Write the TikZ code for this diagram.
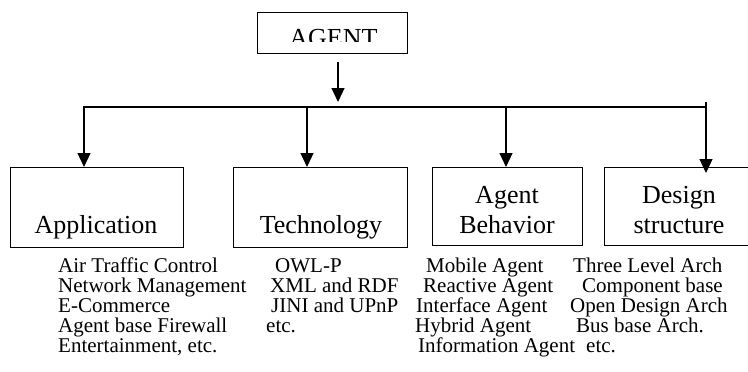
\documentclass[tikz,border=0pt]{standalone}
\usepackage{fontspec}
\setmainfont{Liberation Serif}
\usetikzlibrary{arrows.meta}
\begin{document}
\begin{tikzpicture}[x=1pt,y=-1pt,
  box/.style={draw, line width=1.2pt, inner sep=0pt, anchor=north west},
  ttl/.style={font=\fontsize{26}{30}\selectfont, inner sep=0pt, anchor=base},
  lst/.style={font=\fontsize{21}{20}\selectfont, inner sep=0pt, anchor=base west},
  arr/.style={line width=1.2pt, -{Triangle[length=14pt,width=13pt]}},
  conn/.style={line width=1.2pt, line cap=rect}]
\clip (0,0) rectangle (748,372);
% boxes
\node[box, minimum width=150pt, minimum height=41pt] (agent) at (257,12) {};
\node[box, minimum width=173pt, minimum height=80pt] (app) at (10,167) {};
\node[box, minimum width=174pt, minimum height=80pt] (tech) at (233,167) {};
\node[box, minimum width=150pt, minimum height=78pt] (beh) at (432,167) {};
\node[box, minimum width=150pt, minimum height=78pt] (des) at (604,167) {};
% titles
\begin{scope}
  \clip (257,12) rectangle (407,41);
  \node[ttl] (agentT) at (333.5,46) {AGENT};
\end{scope}
\node[ttl] (appT) at (96,233) {Application};
\node[ttl] (techT) at (321,233) {Technology};
\node[ttl] (behT1) at (507,203) {Agent};
\node[ttl] (behT2) at (507,233) {Behavior};
\node[ttl] (desT1) at (679,203) {Design};
\node[ttl] (desT2) at (679,233) {structure};
% connectors
\coordinate (aS) at (338,62);
\coordinate (aE) at (338,102);
\coordinate (busL) at (84,107);
\coordinate (busR) at (706,107);
\coordinate (busTop) at (706,102);
\coordinate (desTip) at (706,173);
\coordinate (b2) at (307,107);
\coordinate (b3) at (506,107);
\draw[arr] (aS) -- (aE);
\draw[conn] (busL) -- (busR);
\draw[arr] (busL) -- (busL |- app.north);
\draw[arr] (b2) -- (b2 |- tech.north);
\draw[arr] (b3) -- (b3 |- beh.north);
\draw[arr] (busTop) -- (desTip);
% lists
\foreach \x/\y/\t [count=\i] in {58/272.7/Air Traffic Control, 58/292.7/Network Management, 58/312.7/E-Commerce, 58/332.7/Agent base Firewall, 58/352.7/{Entertainment, etc.}}
  \node[lst] (appL\i) at (\x,\y) {\t};
\foreach \x/\y/\t [count=\i] in {275/272.7/OWL-P, 270/292.7/XML and RDF, 271/312.7/JINI and UPnP, 266/332.7/etc.}
  \node[lst] (techL\i) at (\x,\y) {\t};
\foreach \x/\y/\t [count=\i] in {426/272.7/Mobile Agent, 423/292.7/Reactive Agent, 416/312.7/Interface Agent, 415/332.7/Hybrid Agent, 418/352.7/Information Agent}
  \node[lst] (behL\i) at (\x,\y) {\t};
\foreach \x/\y/\t [count=\i] in {573/272.7/Three Level Arch, 582/292.7/Component base, 570/312.7/Open Design Arch, 576/332.7/Bus base Arch., 586/352.7/etc.}
  \node[lst] (desL\i) at (\x,\y) {\t};
\end{tikzpicture}
\end{document}
